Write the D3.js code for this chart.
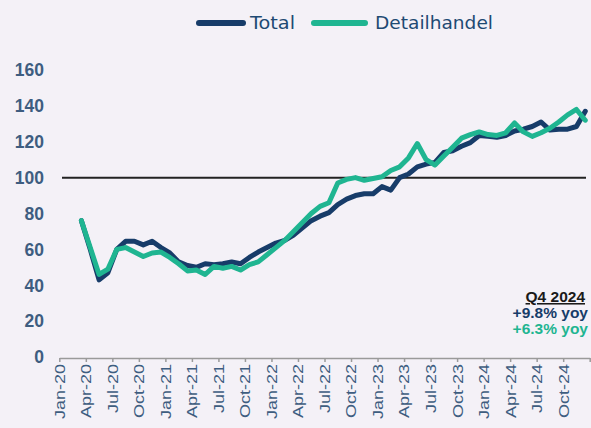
<!DOCTYPE html>
<html>
<head>
<meta charset="utf-8">
<script src="https://cdn.jsdelivr.net/npm/d3@7"></script>
<style>
  html, body { margin: 0; padding: 0; background: #f4f1f7; }
  svg { display: block; }
</style>
</head>
<body>
<div id="chart"></div>
<script>
// Monthly index series, Mar-20 .. Dec-24
const months = d3.range(2, 60); // month offsets from Jan-20
const totalValues = [
  76, 60, 43, 47, 60, 64.5, 64.5, 62.5, 64.5, 61,
  58, 53, 51, 50, 52, 51.5, 52, 53, 52, 55.5, 58.5, 61,
  63.5, 65, 68, 72, 76, 78.5, 80.5, 85, 88, 90, 91, 91,
  95, 93, 100, 102, 106, 107.5, 108.5, 114, 115, 117.5, 119.5, 123.5,
  123, 122.5, 123.5, 126, 127, 128.5, 131, 126.5, 127, 127, 128.5, 137
];
const retailValues = [
  76, 61, 46, 49, 60, 61, 58.5, 56, 58, 58.5,
  55.5, 52, 48, 48.5, 46, 50.5, 49.5, 50.5, 48.5, 51.5, 53, 57,
  61, 65, 70, 75, 80, 84, 86, 97, 99, 100, 98.5, 99.5,
  100.5, 104, 106, 111, 119, 110, 107, 112, 117, 122, 124, 125.5,
  124, 123.5, 125, 130.5, 125.5, 123, 125, 127.5, 131, 135, 138, 132
];
const seriesNames = ["Total", "Detailhandel"];
const seriesColors = ["#173c69", "#1fb591"];
const tickLabels = [
  "Jan-20", "Apr-20", "Jul-20", "Oct-20", "Jan-21", "Apr-21", "Jul-21", "Oct-21",
  "Jan-22", "Apr-22", "Jul-22", "Oct-22", "Jan-23", "Apr-23", "Jul-23", "Oct-23",
  "Jan-24", "Apr-24", "Jul-24", "Oct-24"
];
const yTicks = [0, 20, 40, 60, 80, 100, 120, 140, 160];
const refValue = 100;
const noteTitle = "Q4 2024";
const noteLines = ["+9.8% yoy", "+6.3% yoy"];

const W = 591, H = 428;
const svg = d3.select("#chart").append("svg").attr("width", W).attr("height", H);

const x = d3.scaleLinear().domain([0, 60]).range([59.3, 589.7]);
const y = d3.scaleLinear().domain([0, 160]).range([357, 70]);

// y tick labels (no axis line)
svg.append("g").selectAll("text").data(yTicks).join("text")
  .attr("x", 44).attr("y", d => y(d)).attr("dy", "0.36em")
  .attr("text-anchor", "end")
  .attr("font-family", "Liberation Sans, Arial, sans-serif")
  .attr("font-size", 17.5).attr("font-weight", "bold")
  .attr("fill", "#3e5d80")
  .text(d => d);

// x axis
const xAxis = d3.axisBottom(x)
  .tickValues(d3.range(0, 61, 3))
  .tickFormat("")
  .tickSize(4).tickSizeOuter(0);
const gx = svg.append("g").attr("transform", "translate(0,358)").call(xAxis);
gx.select(".domain").attr("stroke", "#9a9a9a").attr("stroke-width", 1.5);
gx.selectAll(".tick line").attr("stroke", "#9a9a9a").attr("stroke-width", 1.5);

svg.append("g").selectAll("text").data(tickLabels).join("text")
  .attr("transform", (d, i) => `translate(${x(i * 3)},364) rotate(-90) scale(1.2,1)`)
  .attr("text-anchor", "end").attr("dy", "0.36em")
  .attr("font-family", "Liberation Sans, Arial, sans-serif")
  .attr("font-size", 15)
  .attr("fill", "#3e5d80")
  .text(d => d);

// reference line at 100
svg.append("line")
  .attr("x1", 62).attr("x2", 586)
  .attr("y1", y(refValue)).attr("y2", y(refValue))
  .attr("stroke", "#222").attr("stroke-width", 2);

// series lines
const line = d3.line()
  .x((d, i) => x(months[i] + 0.5))
  .y(d => y(d));
[totalValues, retailValues].forEach((vals, k) => {
  svg.append("path").datum(vals)
    .attr("d", line)
    .attr("fill", "none")
    .attr("stroke", seriesColors[k])
    .attr("stroke-width", 5)
    .attr("stroke-linejoin", "round")
    .attr("stroke-linecap", "round");
});

// legend
const legend = svg.append("g");
const legendItems = [
  { x1: 199, x2: 243, tx: 250, w: 45 },
  { x1: 314, x2: 365, tx: 375, w: 118 }
];
legendItems.forEach((it, k) => {
  legend.append("line")
    .attr("x1", it.x1).attr("x2", it.x2).attr("y1", 23).attr("y2", 23)
    .attr("stroke", seriesColors[k]).attr("stroke-width", 6)
    .attr("stroke-linecap", "round");
  legend.append("text")
    .attr("x", it.tx).attr("y", 23).attr("dy", "0.36em")
    .attr("font-family", "DejaVu Sans, sans-serif")
    .attr("font-size", 17)
    .attr("textLength", it.w).attr("lengthAdjust", "spacingAndGlyphs")
    .attr("fill", "#1e4a73")
    .text(seriesNames[k]);
});

// year-on-year note
const note = svg.append("g")
  .attr("font-family", "Liberation Sans, Arial, sans-serif")
  .attr("font-weight", "bold").attr("font-size", 15.5)
  .attr("text-anchor", "end");
note.append("text").attr("x", 585).attr("y", 302)
  .attr("fill", "#1a1a1a").attr("text-decoration", "underline")
  .text(noteTitle);
noteLines.forEach((t, k) => {
  note.append("text").attr("x", 588).attr("y", 318 + k * 16)
    .attr("fill", seriesColors[k]).text(t);
});
</script>
</body>
</html>
